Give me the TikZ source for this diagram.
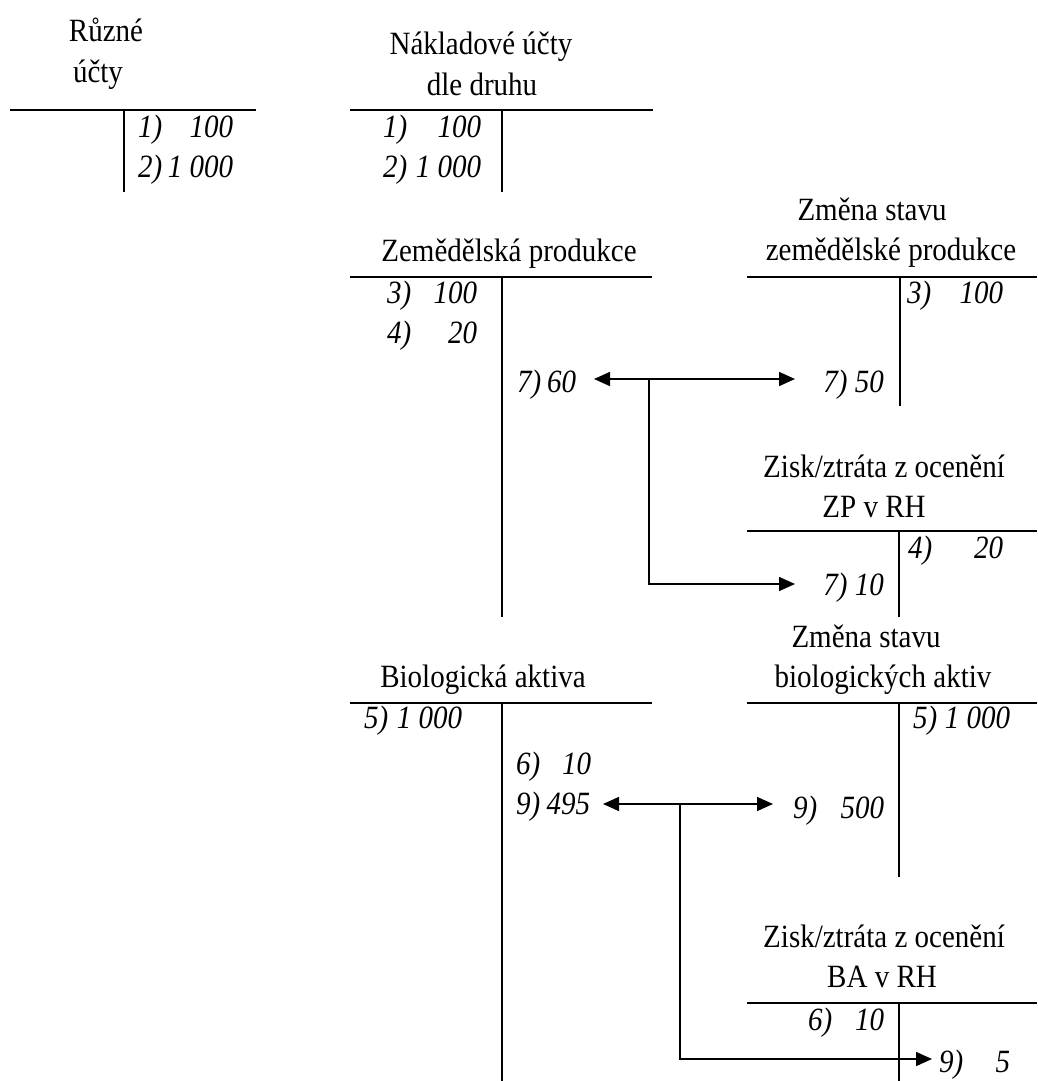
\documentclass[tikz,border=0pt]{standalone}
\usepackage{fontspec}
\setmainfont{Liberation Serif}
\usetikzlibrary{arrows.meta}
\newcommand{\vs}[1]{\scalebox{1}[1.12]{#1}}
\newcommand{\ent}[6]{\node[entry] (#1) at (#2,#3) {\vs{\makebox[#4pt]{#5\hfill #6}}};}
\begin{document}
\begin{tikzpicture}[x=1pt,y=-1pt,
  tline/.style={line width=2.2pt},
  arr/.style={line width=1.6pt,-{Triangle[length=16pt,width=14pt]}},
  title/.style={anchor=base,inner sep=0pt,font=\fontsize{29}{35}\selectfont},
  entry/.style={anchor=base west,inner sep=0pt,font=\fontsize{29}{35}\selectfont\itshape},
  entryr/.style={anchor=base east,inner sep=0pt,font=\fontsize{29}{35}\selectfont\itshape}]
\useasboundingbox (0,0) rectangle (1037,1081);

% ---- Různé účty
\node[title] (t1a) at (106,42) {\vs{Různé}};
\node[title] (t1b) at (98,82) {\vs{účty}};
\draw[tline] (10,110) -- (256,110);
\draw[tline] (124,110) -- (124,192);
\ent{e1a}{138}{137}{95}{1)}{100}
\ent{e1b}{138}{177}{95}{2)}{1 000}

% ---- Nákladové účty dle druhu
\node[title] (t2a) at (481,55) {\vs{Nákladové účty}};
\node[title] (t2b) at (482,95) {\vs{dle druhu}};
\draw[tline] (350,110) -- (653,110);
\draw[tline] (502,110) -- (502,192);
\ent{e2a}{383}{137}{98}{1)}{100}
\ent{e2b}{383}{177}{98}{2)}{1 000}

% ---- Zemědělská produkce
\node[title] (t3a) at (509,261) {\vs{Zemědělská produkce}};
\draw[tline] (350,277) -- (652,277);
\draw[tline] (502,277) -- (502,617);
\ent{e3a}{387}{303}{90}{3)}{100}
\ent{e3b}{387}{343}{90}{4)}{20}
\ent{e3c}{517}{392}{59}{7)}{60}

% ---- Změna stavu zemědělské produkce
\node[title] (t4a) at (872,220) {\vs{Změna stavu}};
\node[title] (t4b) at (891,260) {\vs{zemědělské produkce}};
\draw[tline] (747,277) -- (1037,277);
\draw[tline] (900,277) -- (900,406);
\ent{e4a}{907}{303}{96}{3)}{100}
\node[entryr] (e4b) at (884,392) {\vs{7) 50}};

% ---- Zisk/ztráta z ocenění ZP v RH
\node[title] (t5a) at (884,477) {\vs{Zisk/ztráta z ocenění}};
\node[title] (t5b) at (874,517) {\vs{ZP v RH}};
\draw[tline] (747,531) -- (1037,531);
\draw[tline] (899,531) -- (899,617);
\ent{e5a}{908}{558}{95}{4)}{20}
\node[entryr] (e5b) at (884,595) {\vs{7) 10}};

% ---- Biologická aktiva
\node[title] (t6a) at (483,687) {\vs{Biologická aktiva}};
\draw[tline] (350,703) -- (652,703);
\draw[tline] (502,703) -- (502,1081);
\ent{e6a}{364}{728}{98}{5)}{1 000}
\ent{e6b}{516}{774}{75}{6)}{10}
\ent{e6c}{516}{814}{74}{9)}{495}

% ---- Změna stavu biologických aktiv
\node[title] (t7a) at (866,647) {\vs{Změna stavu}};
\node[title] (t7b) at (883,687) {\vs{biologických aktiv}};
\draw[tline] (747,703) -- (1037,703);
\draw[tline] (899,703) -- (899,877);
\ent{e7a}{913}{728}{97}{5)}{1 000}
\ent{e7b}{793}{818}{91}{9)}{500}

% ---- Zisk/ztráta z ocenění BA v RH
\node[title] (t8a) at (884,947) {\vs{Zisk/ztráta z ocenění}};
\node[title] (t8b) at (882,987) {\vs{BA v RH}};
\draw[tline] (747,1003) -- (1037,1003);
\draw[tline] (899,1003) -- (899,1081);
\ent{e8a}{808}{1030}{76}{6)}{10}
\ent{e8b}{939}{1072}{71}{9)}{5}

% ---- connectors, operation 7
\coordinate (j7) at (649,379);
\coordinate (p7l) at (594,379);
\coordinate (p7r) at (795,379);
\coordinate (p7d) at (795,584);
\draw[arr] (j7) -- (p7l);
\draw[arr] (j7) -- (p7r);
\draw[arr] (j7) |- (p7d);

% ---- connectors, operation 9
\coordinate (j9) at (680,804);
\coordinate (p9l) at (603,804);
\coordinate (p9r) at (773,804);
\coordinate (p9d) at (932,1059);
\draw[arr] (j9) -- (p9l);
\draw[arr] (j9) -- (p9r);
\draw[arr] (j9) |- (p9d);
\end{tikzpicture}
\end{document}
